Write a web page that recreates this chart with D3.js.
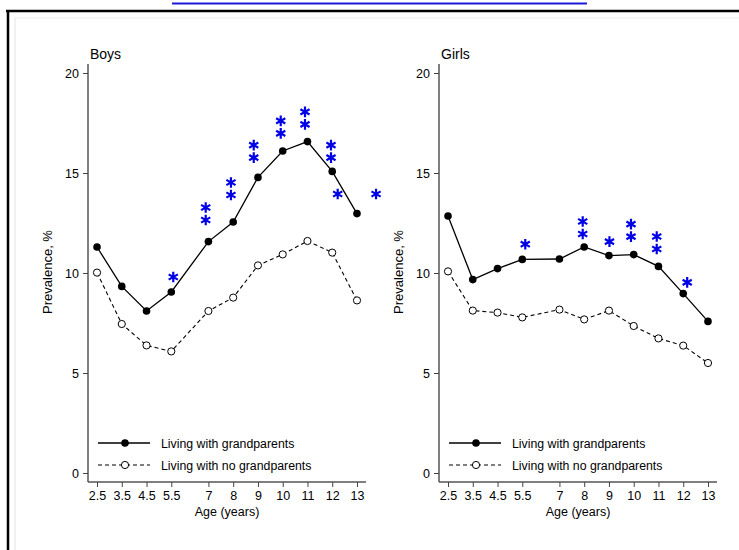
<!DOCTYPE html>
<html>
<head>
<meta charset="utf-8">
<script src="https://cdn.jsdelivr.net/npm/d3@7"></script>
<style>
  body { margin: 0; background: #fff; }
  text { font-family: "Liberation Sans", Arial, sans-serif; fill: #000; }
</style>
</head>
<body>
<div id="chart"></div>
<script>
// ages on the x axis
const ages = [2.5, 3.5, 4.5, 5.5, 7, 8, 9, 10, 11, 12, 13];
const yTicks = [0, 5, 10, 15, 20];

// prevalence, %
const boysWith = [11.3, 9.33, 8.1, 9.05, 11.57, 12.55, 14.78, 16.1, 16.57, 15.08, 12.97];
const boysWithout = [10.02, 7.45, 6.38, 6.08, 8.1, 8.77, 10.38, 10.93, 11.6, 11.02, 8.63];
const girlsWith = [12.85, 9.67, 10.22, 10.68, 10.7, 11.3, 10.87, 10.92, 10.33, 8.97, 7.58];
const girlsWithout = [10.08, 8.12, 8.02, 7.78, 8.17, 7.68, 8.12, 7.35, 6.73, 6.37, 5.5];

// significance stars: x position (age), y of lowest star, number of stars
const boysStars = [
    {x: 5.58, y: 9.8, n: 1},
    {x: 6.89, y: 12.65, n: 2},
    {x: 7.91, y: 13.9, n: 2},
    {x: 8.83, y: 15.77, n: 2},
    {x: 9.92, y: 16.98, n: 2},
    {x: 10.9, y: 17.43, n: 2},
    {x: 11.95, y: 15.77, n: 2},
    {x: 12.22, y: 13.95, n: 1},
    {x: 13.77, y: 13.95, n: 1}
];
const girlsStars = [
    {x: 5.62, y: 11.44, n: 1},
    {x: 7.94, y: 11.95, n: 2},
    {x: 9.02, y: 11.57, n: 1},
    {x: 9.89, y: 11.82, n: 2},
    {x: 10.93, y: 11.2, n: 2},
    {x: 12.16, y: 9.53, n: 1}
];

const legendLabels = ['Living with grandparents', 'Living with no grandparents'];

const W = 739, H = 550;
const svg = d3.select('#chart').append('svg')
    .attr('width', W).attr('height', H);

// outer frame (page border)
svg.append('line').attr('x1', 6).attr('x2', W).attr('y1', 11).attr('y2', 11)
    .attr('stroke', '#000').attr('stroke-width', 2.5);
svg.append('line').attr('x1', 8).attr('x2', 8).attr('y1', 10).attr('y2', H)
    .attr('stroke', '#000').attr('stroke-width', 2.5);
svg.append('line').attr('x1', 15).attr('x2', 15).attr('y1', 18).attr('y2', H)
    .attr('stroke', '#e4e4e4').attr('stroke-width', 1);
svg.append('line').attr('x1', 15).attr('x2', W).attr('y1', 18).attr('y2', 18)
    .attr('stroke', '#ececec').attr('stroke-width', 1);
// link underline at top (text clipped off)
svg.append('line').attr('x1', 172).attr('x2', 587).attr('y1', 3.5).attr('y2', 3.5)
    .attr('stroke', '#1a1ad6').attr('stroke-width', 2);

const starPath = (function () {
    const r = 5.3;
    let p = '';
    [90, 30, 150].forEach(a => {
        const rad = a * Math.PI / 180;
        const dx = r * Math.cos(rad), dy = r * Math.sin(rad);
        p += `M${-dx},${-dy}L${dx},${dy}`;
    });
    return p;
})();

function panel(offsetX, title, withVals, withoutVals, stars) {
    const x = d3.scaleLinear().domain([2.136, 13.364]).range([88, 366]);
    const y = d3.scaleLinear().domain([-0.45, 20.45]).range([482, 64]);

    const g = svg.append('g').attr('transform', `translate(${offsetX},0)`);

    // y axis
    const yAxis = g.append('g').attr('transform', 'translate(88,0)')
        .call(d3.axisLeft(y).tickValues(yTicks).tickSize(5).tickPadding(4).tickFormat(d3.format('d')));
    yAxis.select('.domain').attr('stroke', '#555').attr('stroke-width', 1.5)
        .attr('d', `M0,${y.range()[1]}V${y.range()[0]}`);
    yAxis.selectAll('.tick line').attr('stroke', '#444');
    yAxis.selectAll('.tick text').attr('font-size', 12.5).attr('font-family', '"Liberation Sans", Arial, sans-serif');

    // x axis
    const xAxis = g.append('g').attr('transform', 'translate(0,482)')
        .call(d3.axisBottom(x).tickValues(ages).tickSize(5).tickPadding(4).tickFormat(d => String(d)));
    xAxis.select('.domain').attr('stroke', '#555').attr('stroke-width', 1.5)
        .attr('d', `M${x.range()[0]},0H${x.range()[1]}`);
    xAxis.selectAll('.tick line').attr('stroke', '#444');
    xAxis.selectAll('.tick text').attr('font-size', 12.5).attr('font-family', '"Liberation Sans", Arial, sans-serif');

    // titles
    g.append('text').attr('x', 90).attr('y', 59).attr('font-size', 14).text(title);
    g.append('text').attr('transform', `translate(52,272) rotate(-90)`)
        .attr('text-anchor', 'middle').attr('font-size', 13).text('Prevalence, %');
    g.append('text').attr('x', (x(2.5) + x(13)) / 2).attr('y', 516)
        .attr('text-anchor', 'middle').attr('font-size', 12.5).text('Age (years)');

    const line = d3.line().x((d, i) => x(ages[i])).y(d => y(d));

    // no grandparents: dashed, hollow markers
    g.append('path').datum(withoutVals).attr('d', line)
        .attr('fill', 'none').attr('stroke', '#000').attr('stroke-width', 1.1)
        .attr('stroke-dasharray', '4,3');
    g.selectAll('.hollow').data(withoutVals).enter().append('circle')
        .attr('cx', (d, i) => x(ages[i])).attr('cy', d => y(d)).attr('r', 3.6)
        .attr('fill', '#fff').attr('stroke', '#000').attr('stroke-width', 1);

    // with grandparents: solid, filled markers
    g.append('path').datum(withVals).attr('d', line)
        .attr('fill', 'none').attr('stroke', '#000').attr('stroke-width', 1.3);
    g.selectAll('.filled').data(withVals).enter().append('circle')
        .attr('cx', (d, i) => x(ages[i])).attr('cy', d => y(d)).attr('r', 3.8)
        .attr('fill', '#000');

    // significance stars
    stars.forEach(s => {
        for (let k = 0; k < s.n; k++) {
            g.append('path').attr('d', starPath)
                .attr('transform', `translate(${x(s.x)},${y(s.y) - k * 12.5})`)
                .attr('stroke', '#0000e6').attr('stroke-width', 2.2).attr('fill', 'none');
        }
    });

    // legend
    const lg = g.append('g');
    const rows = [443, 465];
    lg.append('line').attr('x1', 98).attr('x2', 150).attr('y1', rows[0]).attr('y2', rows[0])
        .attr('stroke', '#000').attr('stroke-width', 1.3);
    lg.append('circle').attr('cx', 125).attr('cy', rows[0]).attr('r', 3.8).attr('fill', '#000');
    lg.append('line').attr('x1', 98).attr('x2', 150).attr('y1', rows[1]).attr('y2', rows[1])
        .attr('stroke', '#000').attr('stroke-width', 1.1).attr('stroke-dasharray', '4,3');
    lg.append('circle').attr('cx', 125).attr('cy', rows[1]).attr('r', 3.6)
        .attr('fill', '#fff').attr('stroke', '#000').attr('stroke-width', 1);
    legendLabels.forEach((t, i) => {
        lg.append('text').attr('x', 161).attr('y', rows[i] + 4.5).attr('font-size', 12.3).text(t);
    });
}

panel(0, 'Boys', boysWith, boysWithout, boysStars);
panel(351, 'Girls', girlsWith, girlsWithout, girlsStars);
</script>
</body>
</html>
